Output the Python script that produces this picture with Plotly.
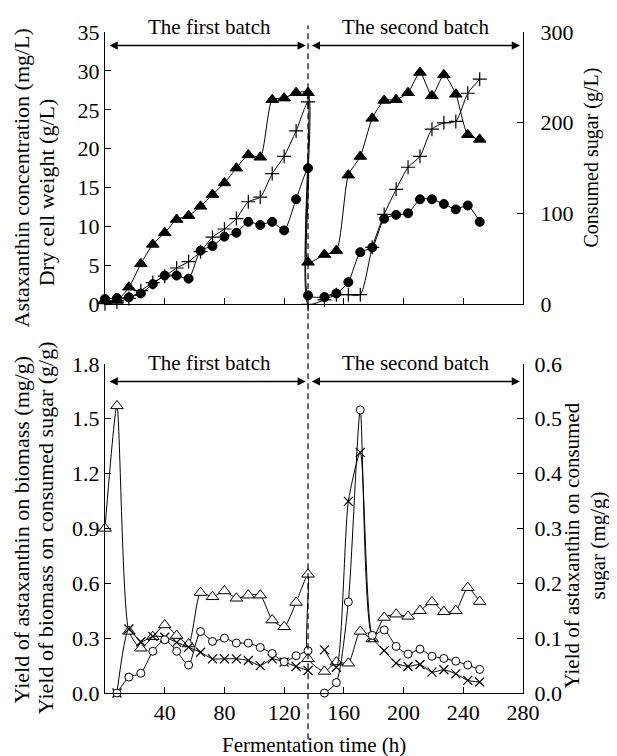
import plotly.graph_objects as go

# ---------------- data ----------------
time_b1 = [0, 8, 16, 24, 32, 40, 48, 56, 64, 72, 80, 88, 96, 104, 112, 120, 128, 136]
time_b2 = [136, 147, 155, 163, 171, 179, 187, 195, 203, 211, 219, 227, 235, 243, 251]

# top panel (batch 1 / batch 2)
dcw_b1 = [0.6, 0.5, 2.2, 5.2, 7.7, 9.2, 10.9, 11.4, 12.6, 14.1, 15.6, 17.5, 19.2, 18.9, 26.3, 26.5, 27.2, 27.2]
dcw_b2 = [5.4, 6.4, 6.9, 16.6, 19.0, 23.9, 26.2, 26.3, 27.2, 29.8, 26.8, 29.5, 27.0, 21.8, 21.2]
asta_b1 = [0.7, 0.8, 0.9, 1.4, 2.6, 3.7, 3.7, 3.3, 6.9, 7.5, 8.7, 9.2, 10.6, 10.2, 10.6, 9.5, 13.5, 17.5]
asta_b2 = [1.15, 0.94, 1.4, 2.85, 6.7, 7.3, 11.0, 11.5, 11.7, 13.5, 13.5, 12.9, 12.2, 12.7, 10.6]
sugar_b1 = [0.7, 2.5, 6.5, 15, 24, 31, 40, 47, 58, 74, 83, 94.5, 113, 118, 144, 163, 191, 223]
sugar_b2 = [0, 5, 10.6, 10.6, 10.6, 62.8, 99, 126.7, 151, 163, 193, 200, 201.5, 232.5, 248]

# bottom panel
yield_ax_bio_b1 = [0.9, 1.57, 0.337, 0.245, 0.308, 0.372, 0.314, 0.268, 0.549, 0.526, 0.558, 0.518, 0.535,
                   0.535, 0.399, 0.362, 0.495, 0.649]
yield_ax_bio_b2 = [0.187, 0.118, 0.169, 0.163, 0.337, 0.295, 0.413, 0.431, 0.419, 0.45, 0.498, 0.444, 0.45,
                   0.576, 0.5]
time_y_b1 = [8, 16, 24, 32, 40, 48, 56, 64, 72, 80, 88, 96, 104, 112, 120, 128, 136]
time_y_b2 = [147, 155, 163, 171, 179, 187, 195, 203, 211, 219, 227, 235, 243, 251]
yield_bio_sugar_b1 = [0.0, 0.35, 0.28, 0.31, 0.305, 0.277, 0.25, 0.223, 0.187, 0.187, 0.187, 0.178, 0.15,
                      0.187, 0.169, 0.145, 0.123]
yield_bio_sugar_b2 = [0.236, 0.141, 1.048, 1.316, 0.305, 0.232, 0.163, 0.145, 0.156, 0.114, 0.127, 0.105,
                      0.069, 0.06]
yield_ax_sugar_b1 = [0.0, 0.029, 0.036, 0.076, 0.097, 0.076, 0.051, 0.112, 0.094, 0.1, 0.091, 0.091, 0.083,
                     0.072, 0.057, 0.068, 0.077]
yield_ax_sugar_b2 = [0.0, 0.019, 0.166, 0.516, 0.105, 0.115, 0.085, 0.071, 0.08, 0.067, 0.063, 0.058,
                     0.051, 0.043]

x_ticks = [40, 80, 120, 160, 200, 240, 280]
batch_split = 136

FONT = "Liberation Serif"
FS = 22
BLACK = "black"

fig = go.Figure()

line = dict(color=BLACK, width=1, shape="spline", smoothing=0.6)


def add(x, y, xa, ya, symbol, size, filled=True, lw=1.0):
    fig.add_trace(go.Scatter(
        x=x, y=y, xaxis=xa, yaxis=ya, mode="lines+markers", line=line,
        marker=dict(symbol=symbol, size=size, color=BLACK if filled else "white",
                    line=dict(color=BLACK, width=lw)),
        cliponaxis=False, showlegend=False))


# top panel
add(time_b1 + time_b2, dcw_b1 + dcw_b2, "x2", "y3", "triangle-up", 11)
add(time_b1 + time_b2, asta_b1 + asta_b2, "x2", "y3", "circle", 9)
add(time_b1 + time_b2, sugar_b1 + sugar_b2, "x2", "y4", "cross-thin", 10, lw=1.2)

# bottom panel
add(time_b1 + time_b2, yield_ax_bio_b1 + yield_ax_bio_b2, "x", "y", "triangle-up", 11, filled=False)
add(time_y_b1, yield_bio_sugar_b1, "x", "y", "x-thin", 9, lw=1.2)
add(time_y_b2, yield_bio_sugar_b2, "x", "y", "x-thin", 9, lw=1.2)
add(time_y_b1, yield_ax_sugar_b1, "x", "y2", "circle", 8, filled=False)
add(time_y_b2, yield_ax_sugar_b2, "x", "y2", "circle", 8, filled=False)

axis_common = dict(showgrid=False, zeroline=False, showline=True, linecolor=BLACK, linewidth=1,
                   ticks="inside", ticklen=6, tickcolor=BLACK, tickwidth=1,
                   tickfont=dict(family=FONT, size=FS, color=BLACK))

TOP_DOM = [0.588, 1.0]
BOT_DOM = [0.0, 0.498]

# page body has an 8px margin: figure is 609x748 so that it fills the 617x756 window
fig.update_layout(
    width=609, height=748,
    margin=dict(l=97, r=94, t=20, b=63),
    paper_bgcolor="white", plot_bgcolor="white",
    font=dict(family=FONT, size=FS, color=BLACK),
    showlegend=False,
    xaxis=dict(axis_common, domain=[0, 1], anchor="y", range=[0, 280], tickvals=x_ticks),
    xaxis2=dict(axis_common, domain=[0, 1], anchor="y3", range=[0, 280], tickvals=x_ticks,
                matches="x", showticklabels=False),
    yaxis=dict(axis_common, domain=BOT_DOM, anchor="x", range=[0, 1.8], dtick=0.3, tickformat=".1f"),
    yaxis2=dict(axis_common, overlaying="y", side="right", anchor="x", range=[0, 0.6], dtick=0.1,
                tickformat=".1f", ticklabelstandoff=6),
    yaxis3=dict(axis_common, domain=TOP_DOM, anchor="x2", range=[0, 35], dtick=5),
    yaxis4=dict(axis_common, overlaying="y3", side="right", anchor="x2", range=[0, 300], dtick=100,
                ticklabelstandoff=12),
)

# dashed separator line
fig.add_shape(type="line", xref="x", yref="paper", x0=batch_split, x1=batch_split, y0=-0.07, y1=1.01,
              line=dict(color=BLACK, width=1.2, dash="6px,4px"))


# batch arrows and labels
def arrow(x0, x1, y, xr, yr):
    fig.add_annotation(x=x1, y=y, ax=x0, ay=y, xref=xr, yref=yr, axref=xr, ayref=yr, text="",
                       showarrow=True, arrowhead=2, arrowside="end+start", arrowsize=1.1,
                       arrowwidth=1.5, arrowcolor=BLACK, standoff=0, startstandoff=0)


arrow(2, 134.5, 33.25, "x2", "y3")
arrow(137.5, 278, 33.25, "x2", "y3")
arrow(2, 134.5, 1.704, "x", "y")
arrow(137.5, 278, 1.704, "x", "y")

for yv in (1.0075, 0.4997):
    fig.add_annotation(x=70, y=yv, xref="x", yref="paper", text="The first batch", showarrow=False,
                       font=dict(family=FONT, size=21), xanchor="center", yanchor="middle")
    fig.add_annotation(x=208, y=yv, xref="x", yref="paper", text="The second batch", showarrow=False,
                       font=dict(family=FONT, size=21), xanchor="center", yanchor="middle")


# axis titles
def title(text, x, y, angle=-90, size=22):
    fig.add_annotation(x=x, y=y, xref="paper", yref="paper", text=text, showarrow=False,
                       textangle=angle, font=dict(family=FONT, size=size), xanchor="center",
                       yanchor="middle", borderpad=0)


title("Astaxanthin concentration (mg/L)", -0.2, 0.779)
title("Dry cell weight (g/L)", -0.138, 0.758)
title("Consumed sugar (g/L)", 1.165, 0.81, size=20)
title("Yield of astaxanthin on biomass (mg/g)", -0.2, 0.248)
title("Yield of biomass on consumed sugar (g/g)", -0.1425, 0.25)
title("Yield of astaxanthin on consumed", 1.117, 0.223, size=21)
title("sugar (mg/g)", 1.179, 0.223, size=21)
title("Fermentation time (h)", 0.5, -0.078, angle=0, size=21)

fig.write_html("out.html")
